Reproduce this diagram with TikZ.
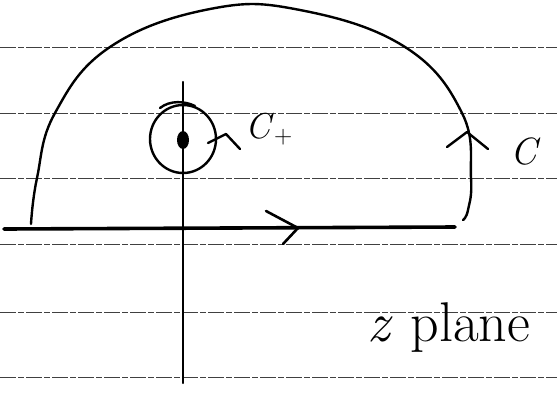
\documentclass[tikz,border=0pt]{standalone}
\begin{document}
\begin{tikzpicture}[x=1pt,y=-1pt,
  ruled/.style={black!75,line width=0.9pt,dash pattern=on 16pt off 2pt on 6pt off 2pt},
  ink/.style={black,line width=2.4pt,line cap=round,line join=round},
  thickink/.style={black,line width=3.6pt,line cap=round},
  lbl/.style={inner sep=0pt}]
\useasboundingbox (0,0) rectangle (557,392);
% ruled paper lines
\foreach \yy in {47,113,178,244,312,377}
  \draw[ruled] (0,\yy) -- (557,\yy);
% axes
\coordinate (rl) at (4,229);
\coordinate (rr) at (455,227);
\draw[thickink] (rl) -- (rr);
\coordinate (it) at (183,82);
\coordinate (ib) at (183,383);
\draw[ink] (it) -- (ib);
% big contour C
\draw[ink] plot[smooth,tension=0.7] coordinates {(31,224) (37,178) (55,113) (110,47) (210,9) (300,10) (405,47) (462,113) (471,178) (468,210) (463,220)};
% arrow on real axis
\coordinate (ra) at (298,228);
\draw[ink,line width=2.6pt] (266,211) -- (ra) -- (283,244);
% arrow on big contour
\coordinate (ca) at (467,132);
\draw[ink] (447,147) -- (ca) -- (488,149);
% small circle C+
\draw[ink] (183,139) ellipse[x radius=33,y radius=34];
\draw[ink] (160,108) .. controls (170,100) and (185,101) .. (195,106);
\fill (183,140) ellipse[x radius=6,y radius=9];
\coordinate (sa) at (226,134);
\draw[ink] (208,143) -- (sa) -- (240,149);
% labels
\node[lbl] (cplus) at (269,129) {\fontsize{36}{40}\selectfont\textit{C}\textsubscript{+}};
\node[lbl] (clab) at (526,152) {\fontsize{38}{40}\selectfont\textit{C}};
\node[lbl] (zp) at (449,328) {\fontsize{56}{60}\selectfont\textit{z} plane};
\end{tikzpicture}
\end{document}
